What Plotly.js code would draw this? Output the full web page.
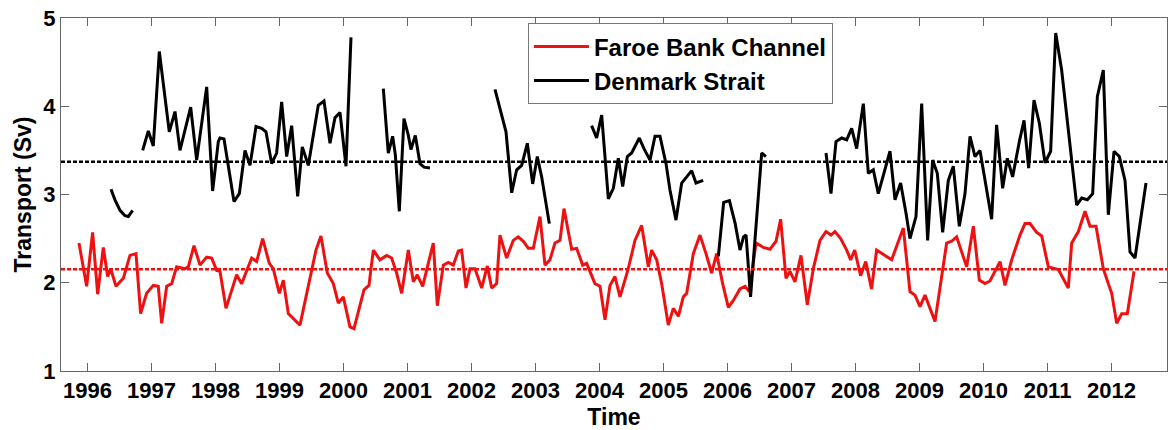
<!DOCTYPE html>
<html><head><meta charset="utf-8">
<script src="https://cdn.plot.ly/plotly-3.0.1.min.js"></script>
<style>html,body{margin:0;padding:0;background:#fff}#chart{width:1168px;height:430px}</style>
</head><body><div id="chart"></div>
<script>
// Faroe Bank Channel overflow transport (Sv), time in decimal years
const fbcTime = [1995.867,1995.987,1996.080,1996.159,1996.247,1996.315,1996.362,1996.445,1996.560,1996.664,1996.758,1996.830,1996.924,1997.028,1997.106,1997.159,1997.237,1997.315,1997.393,1997.523,1997.575,1997.664,1997.758,1997.862,1997.940,1998.018,1998.070,1998.164,1998.330,1998.409,1998.565,1998.643,1998.737,1998.841,1998.903,1998.997,1999.060,1999.138,1999.320,1999.570,1999.648,1999.747,1999.841,1999.919,1999.997,2000.101,2000.164,2000.247,2000.320,2000.398,2000.466,2000.570,2000.674,2000.752,2000.830,2000.909,2001.013,2001.091,2001.153,2001.237,2001.403,2001.466,2001.560,2001.638,2001.716,2001.794,2001.846,2001.914,2001.976,2002.054,2002.159,2002.247,2002.315,2002.393,2002.445,2002.549,2002.653,2002.731,2002.810,2002.888,2002.966,2003.070,2003.148,2003.226,2003.304,2003.383,2003.445,2003.565,2003.643,2003.737,2003.799,2003.929,2004.008,2004.086,2004.164,2004.242,2004.320,2004.450,2004.554,2004.659,2004.763,2004.815,2004.893,2004.971,2005.075,2005.153,2005.232,2005.310,2005.362,2005.466,2005.570,2005.664,2005.752,2005.830,2005.924,2006.013,2006.091,2006.195,2006.273,2006.341,2006.445,2006.560,2006.664,2006.758,2006.830,2006.914,2006.976,2007.054,2007.148,2007.247,2007.341,2007.445,2007.539,2007.617,2007.679,2007.768,2007.862,2007.924,2007.987,2008.080,2008.160,2008.250,2008.330,2008.565,2008.747,2008.851,2008.929,2009.008,2009.086,2009.242,2009.424,2009.502,2009.580,2009.737,2009.841,2009.935,2010.023,2010.101,2010.195,2010.258,2010.336,2010.440,2010.570,2010.648,2010.727,2010.831,2010.909,2011.013,2011.169,2011.325,2011.378,2011.482,2011.586,2011.664,2011.758,2011.872,2011.950,2012.003,2012.081,2012.159,2012.247,2012.352];
const fbcTransport = [2.45,1.96,2.57,1.87,2.40,2.07,2.16,1.96,2.05,2.31,2.33,1.65,1.88,1.97,1.96,1.54,1.96,1.99,2.18,2.16,2.18,2.42,2.20,2.29,2.28,2.14,2.13,1.71,2.09,1.99,2.28,2.24,2.50,2.22,2.16,1.88,2.03,1.65,1.52,2.37,2.53,2.11,1.99,1.77,1.84,1.50,1.48,1.73,1.92,1.97,2.37,2.26,2.31,2.28,2.11,1.88,2.37,2.01,2.09,1.96,2.45,1.74,2.20,2.23,2.20,2.36,2.37,1.94,2.16,2.16,1.94,2.19,1.94,1.99,2.54,2.28,2.48,2.52,2.47,2.39,2.39,2.75,2.20,2.26,2.45,2.48,2.84,2.38,2.39,2.20,2.22,1.99,1.96,1.58,1.97,2.07,1.84,2.16,2.48,2.65,2.18,2.37,2.26,1.99,1.52,1.71,1.62,1.84,1.88,2.33,2.54,2.33,2.11,2.33,1.99,1.72,1.80,1.93,1.96,1.90,2.45,2.40,2.38,2.47,2.72,2.05,2.13,2.01,2.31,1.75,2.16,2.48,2.58,2.54,2.58,2.50,2.37,2.26,2.37,2.08,2.24,1.93,2.37,2.26,2.62,1.90,1.86,1.73,1.86,1.56,2.45,2.47,2.52,2.18,2.64,2.03,1.99,2.02,2.16,2.24,1.97,2.26,2.54,2.67,2.67,2.57,2.53,2.18,2.15,1.94,2.45,2.58,2.81,2.64,2.64,2.16,1.99,1.88,1.54,1.65,1.65,2.13];

// Denmark Strait overflow transport (Sv); null = gap in the record
const dsTime = [1996.367,1996.429,1996.508,1996.586,1996.638,1996.705,null,
  1996.862,1996.950,1997.028,1997.122,1997.278,1997.367,1997.445,1997.612,1997.706,1997.862,1997.955,1998.044,1998.070,1998.133,1998.289,1998.372,1998.461,1998.539,1998.633,1998.721,1998.789,1998.877,1998.955,1999.034,1999.112,1999.190,1999.284,1999.356,1999.450,1999.528,1999.606,1999.695,1999.789,1999.867,1999.945,2000.039,2000.117,null,
  2000.622,2000.700,2000.768,2000.810,2000.872,2000.945,2001.013,2001.054,2001.122,2001.195,2001.258,2001.351,null,
  2002.367,2002.539,2002.628,2002.706,2002.784,2002.872,2002.956,2003.028,2003.096,2003.216,null,
  2003.877,2003.955,2004.034,2004.138,2004.216,2004.294,2004.362,2004.435,2004.502,2004.622,2004.695,2004.789,2004.867,2004.945,2005.039,2005.101,2005.195,2005.284,2005.362,2005.440,2005.508,2005.570,2005.620,null,
  2005.857,2005.940,2006.030,2006.120,2006.195,2006.250,2006.290,2006.360,2006.534,2006.600,null,
  2007.539,2007.617,2007.695,2007.784,2007.862,2007.940,2008.018,2008.122,2008.200,2008.278,2008.356,2008.445,2008.539,2008.617,2008.705,2008.789,2008.851,2008.945,2009.034,2009.127,2009.205,2009.278,2009.362,2009.450,2009.528,2009.622,2009.711,2009.789,2009.867,2009.945,2010.039,2010.127,2010.205,2010.299,2010.372,2010.455,2010.560,2010.633,2010.705,2010.789,2010.872,2010.961,2011.049,2011.128,2011.221,2011.456,2011.534,2011.622,2011.706,2011.779,2011.872,2011.950,2012.039,2012.122,2012.211,2012.289,2012.367,2012.539];
const dsTransport = [3.06,2.94,2.82,2.76,2.75,2.82,null,
  3.50,3.72,3.55,4.62,3.71,3.94,3.50,3.99,3.39,4.22,3.04,3.60,3.64,3.63,2.92,3.01,3.50,3.33,3.77,3.75,3.71,3.35,3.47,4.05,3.43,3.78,2.98,3.54,3.33,3.67,4.01,4.06,3.58,3.87,3.93,3.32,4.78,null,
  4.20,3.47,3.66,3.45,2.81,3.86,3.67,3.51,3.67,3.35,3.31,3.30,null,
  4.19,3.71,3.02,3.28,3.33,3.58,3.12,3.43,3.20,2.67,null,
  3.78,3.64,3.90,2.95,3.07,3.41,3.09,3.43,3.47,3.64,3.52,3.39,3.66,3.66,3.35,3.05,2.71,3.13,3.20,3.27,3.13,3.15,3.16,null,
  2.30,2.91,2.93,2.67,2.37,2.52,2.54,1.84,3.47,3.43,null,
  3.47,3.01,3.60,3.64,3.62,3.75,3.52,4.03,3.24,3.28,3.01,3.24,3.49,2.94,3.13,2.79,2.50,2.75,4.03,2.48,3.39,3.24,2.57,3.16,3.32,2.64,3.01,3.66,3.43,3.50,3.09,2.72,3.79,3.07,3.41,3.20,3.60,3.84,3.30,4.07,3.81,3.36,3.49,4.83,4.41,2.88,2.96,2.94,3.01,4.11,4.41,2.77,3.49,3.43,3.16,2.35,2.28,3.13];

// Long-term means (Sv)
const fbcMean = 2.152;
const dsMean = 3.372;

const yearTicks = [1996,1997,1998,1999,2000,2001,2002,2003,2004,2005,2006,2007,2008,2009,2010,2011,2012];
const yearLabels = ['1996','1997','1998','1999','2000','2001','2002','2003','2004','2005','2006','2007','2008','2009','2010','2011','2012'];
const transportTicks = [1,2,3,4,5];
const transportLabels = ['1','2','3','4','5'];

const RED = '#ee1111';
const FONT = 'Liberation Sans, Arial, Helvetica, sans-serif';

const traces = [
  {x: fbcTime, y: fbcTransport, type: 'scatter', mode: 'lines', name: 'Faroe Bank Channel',
   line: {color: RED, width: 3}, connectgaps: false},
  {x: dsTime, y: dsTransport, type: 'scatter', mode: 'lines', name: 'Denmark Strait',
   line: {color: '#000', width: 3}, connectgaps: false}
];

const axisCommon = {
  showgrid: false, zeroline: false, showline: true, linecolor: '#666', linewidth: 1,
  mirror: 'ticks', ticks: 'inside', ticklen: 8, tickcolor: '#666', tickwidth: 1,
  tickfont: {family: FONT, size: 22, color: '#000', weight: 'bold'}
};

const layout = {
  width: 1168, height: 430,
  margin: {l: 61, r: 1, t: 18, b: 59},
  paper_bgcolor: '#fff', plot_bgcolor: '#fff',
  showlegend: true,
  xaxis: Object.assign({}, axisCommon, {
    range: [1995.586, 2012.867], tickmode: 'array', tickvals: yearTicks, ticktext: yearLabels,
    title: {text: 'Time', font: {family: FONT, size: 23, color: '#000', weight: 'bold'}, standoff: 7}
  }),
  yaxis: Object.assign({}, axisCommon, {
    range: [1, 5], tickmode: 'array', tickvals: transportTicks, ticktext: transportLabels,
    title: {text: 'Transport (Sv)', font: {family: FONT, size: 23, color: '#000', weight: 'bold'}, standoff: 5}
  }),
  legend: {
    x: 0.4222, y: 0.985, xanchor: 'left', yanchor: 'top',
    bgcolor: '#fff', bordercolor: '#777', borderwidth: 1,
    font: {family: FONT, size: 24, color: '#000', weight: 'bold'},
    itemwidth: 55, tracegroupgap: 0
  },
  shapes: [
    {type: 'line', xref: 'paper', x0: 0, x1: 1, yref: 'y', y0: dsMean, y1: dsMean,
     line: {color: '#000', width: 2.5, dash: '4px,2px'}},
    {type: 'line', xref: 'paper', x0: 0, x1: 1, yref: 'y', y0: fbcMean, y1: fbcMean,
     line: {color: RED, width: 2.5, dash: '4px,2px'}}
  ]
};

Plotly.newPlot('chart', traces, layout, {displayModeBar: false, staticPlot: true});
</script>
</body></html>
